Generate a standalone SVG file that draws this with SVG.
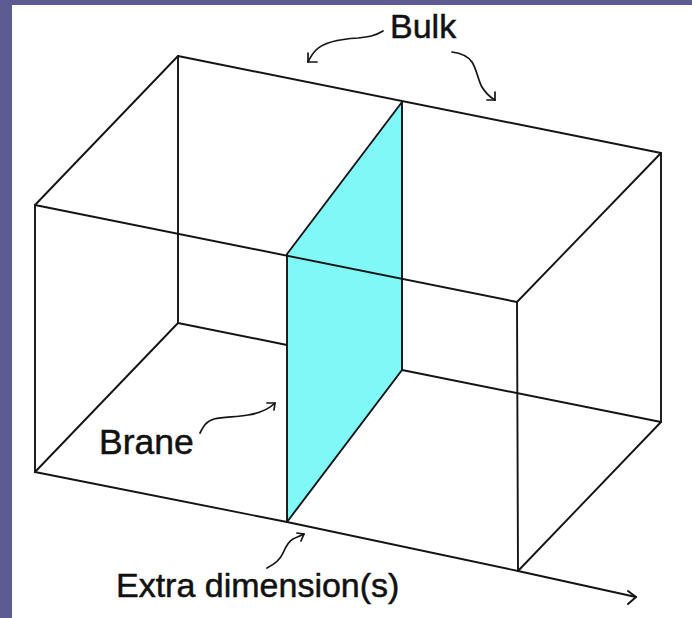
<svg xmlns="http://www.w3.org/2000/svg" width="692" height="618" viewBox="0 0 692 618">
  <defs>
    <style>
      .edge { fill: none; stroke: #141414; stroke-width: 1.9; stroke-linejoin: round; stroke-linecap: round; }
      .curve { fill: none; stroke: #141414; stroke-width: 1.7; stroke-linecap: round; stroke-linejoin: round; }
      .label { font-family: "Liberation Sans", Arial, sans-serif; fill: #111; stroke: #111; stroke-width: 0.5; }
    </style>
  </defs>
  <rect x="0" y="0" width="692" height="618" fill="#5c5c92"/>
  <rect x="12" y="5" width="680" height="613" fill="#ffffff"/>

  <g id="bulk-box-back">
    <path class="edge" d="M178,56 L661,153 L661,422 M178,56 L178,323 L287,345 M402,370 L661,422"/>
    <path class="edge" d="M178,56 L35,205 M178,323 L35,472 M661,153 L517,302 M661,422 L518,571"/>
  </g>

  <g id="brane">
    <polygon points="402,102 402,370 287,522 287,254" fill="#80f8f8" stroke="#141414" stroke-width="1.9" stroke-linejoin="round"/>
  </g>

  <g id="bulk-box-front">
    <path class="edge" d="M35,205 L517,302 L518,571 M35,205 L35,472"/>
  </g>

  <g id="connectors">
    <path class="edge" d="M35,472 L287,522 L518,571 L636,597"/>
    <path class="edge" d="M628,591 L636,597 L628,604"/>
    <path class="curve" d="M383,31 C375,36 368,37 358,38 C340,39 324,42 316,50 C312,54 310,58 308,62"/>
    <path class="curve" d="M308,53 L308,62 L317,62"/>
    <path class="curve" d="M452,52 C460,53 467,55 472,62 C477,70 478,80 482,87 C486,94 490,97 495,100"/>
    <path class="curve" d="M495,92 L495,100 L487,100"/>
    <path class="curve" d="M200,433 C203,427 206,421 214,419 C224,417 236,417 248,415 C260,413 268,410 275,403"/>
    <path class="curve" d="M267,403 L275,403 L274,410"/>
    <path class="curve" d="M267,568 C275,564 280,560 283,553 C286,546 289,541 293,539 C297,537 300,536 304,534"/>
    <path class="curve" d="M297,533 L304,534 L301,541"/>
  </g>

  <g id="label-bulk">
    <text class="label" x="390" y="38" font-size="34">Bulk</text>
  </g>
  <g id="label-brane">
    <text class="label" x="99" y="454" font-size="35.5">Brane</text>
  </g>
  <g id="label-extra">
    <text class="label" x="116" y="597" font-size="34">Extra dimension(s)</text>
  </g>
</svg>
